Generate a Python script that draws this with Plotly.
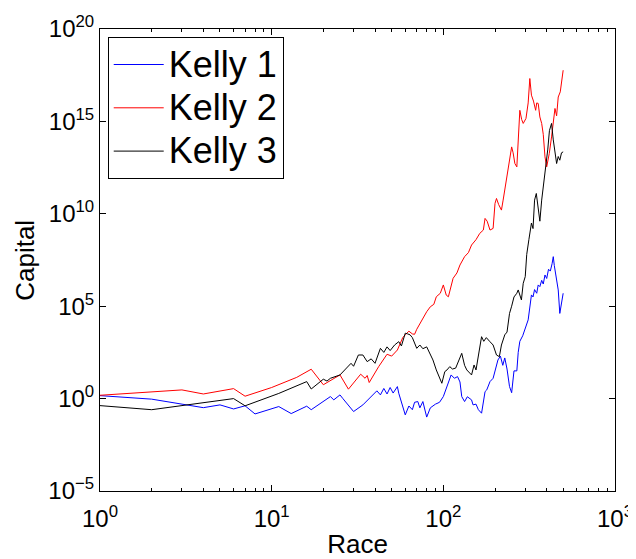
import plotly.graph_objects as go
import numpy as np

# ---- data (race number, log10 of capital) ----
kelly1_race = [1, 2, 4, 5, 6, 7, 8, 11, 13, 16, 17, 22, 23, 25, 26, 30, 34, 38, 41, 43, 45, 47, 49, 51,
               54, 55, 60, 63, 66, 68, 71, 73, 76, 80, 84, 90, 95, 100, 105, 111, 116, 121, 125, 128,
               133, 138, 146, 149, 155, 160, 167, 175, 179, 187, 195, 200, 208, 215, 222, 228, 235,
               243, 250, 258, 268, 273, 279, 290, 298, 306, 312, 326, 333, 340, 350, 357, 365, 374,
               382, 391, 400, 410, 420, 430, 437, 443, 450, 457, 467, 477, 485, 492, 499]
kelly1_log = [0.16, -0.03, -0.49, -0.34, -0.56, -0.39, -0.83, -0.43, -0.81, -0.41, -0.6, 0.11, -0.07,
              0.2, 0.0, -0.7, -0.34, 0.1, 0.42, 0.2, 0.55, 0.25, 0.6, 0.3, 0.65, 0.29, -0.88, -0.4,
              -0.6, -0.2, -0.16, -0.5, -0.16, -1.0, -0.5, -0.3, -0.2, 0.11, 0.65, 1.28, 1.1, 1.19, 0.9,
              0.11, -0.16, 0.1, -0.07, -0.34, -0.3, -0.6, -0.79, 0.38, 0.47, 0.92, 1.1, 1.5, 2.09, 2.3,
              1.8, 2.2, 1.6, 0.65, 0.32, 1.5, 1.5, 2.5, 3.1, 3.4, 3.71, 4.0, 4.26, 5.61, 5.5, 5.9, 5.7,
              6.15, 6.06, 6.4, 6.2, 6.69, 6.5, 7.0, 6.9, 7.3, 7.68, 7.2, 6.8, 6.2, 5.88, 4.61, 5.0,
              5.2, 5.7]

kelly2_race = [1, 3, 4, 6, 7, 10, 14, 17, 20, 25, 28, 33, 35, 36, 37, 42, 47, 50, 54, 58, 60, 63, 66,
               68, 70, 76, 80, 84, 88, 91, 96, 100, 104, 107, 114, 120, 125, 133, 140, 146, 155, 163,
               171, 175, 180, 187, 195, 200, 204, 210, 218, 223, 239, 250, 255, 261, 268, 279, 286,
               292, 303, 312, 319, 326, 335, 345, 350, 357, 365, 374, 382, 391, 400, 407, 414, 427,
               437, 447, 457, 467, 480, 490, 499]
kelly2_log = [0.18, 0.47, 0.25, 0.54, 0.13, 0.6, 1.15, 1.59, 0.75, 1.28, 0.51, 1.32, 1.1, 1.25, 0.87,
              1.73, 2.4, 2.3, 2.63, 3.3, 3.45, 3.65, 3.5, 3.48, 3.75, 4.34, 4.7, 4.97, 5.1, 5.51, 5.7,
              6.15, 5.6, 5.51, 6.51, 6.8, 7.23, 7.68, 7.9, 8.31, 8.6, 8.94, 9.12, 9.75, 9.6, 9.12,
              9.21, 10.56, 10.83, 10.5, 10.2, 10.74, 12.36, 13.62, 13.3, 12.72, 12.54, 15.6, 15.1,
              14.89, 15.16, 16.0, 17.32, 16.42, 16.1, 15.6, 16.0, 15.97, 15.24, 14.89, 14.3, 13.08,
              12.54, 12.9, 13.26, 14.16, 14.8, 15.7, 15.3, 16.32, 16.6, 17.2, 17.77]

kelly3_race = [1, 2, 6, 7, 11, 16, 17, 20, 21, 22, 25, 29, 30, 32, 34, 36, 38, 40, 43, 45, 47, 49, 52,
               55, 57, 60, 62, 64, 66, 70, 73, 76, 80, 85, 87, 91, 98, 102, 105, 109, 113, 118, 122,
               128, 133, 137, 146, 151, 155, 167, 172, 178, 186, 195, 204, 212, 218, 228, 235, 243,
               250, 258, 268, 273, 285, 292, 300, 306, 315, 326, 333, 340, 348, 356, 365, 374, 391,
               406, 415, 427, 437, 447, 457, 467, 477, 488, 499]
kelly3_log = [-0.38, -0.6, 0.0, -0.39, 0.28, 0.92, 0.52, 1.05, 0.95, 1.1, 1.28, 1.91, 1.75, 2.36, 2.36,
              2.0, 2.15, 1.91, 2.72, 2.5, 2.8, 2.6, 2.9, 3.08, 2.85, 3.54, 3.5, 3.45, 3.3, 2.72, 2.9,
              2.7, 2.8, 2.27, 2.09, 1.55, 0.83, 1.46, 1.55, 1.73, 1.6, 1.65, 2.0, 2.45, 1.8, 1.55,
              1.28, 1.82, 1.55, 3.35, 3.1, 3.3, 3.1, 2.9, 2.36, 2.27, 2.9, 3.45, 3.6, 4.61, 5.0, 5.5,
              5.7, 5.88, 5.34, 6.24, 6.6, 7.8, 8.6, 9.5, 9.2, 10.74, 11.1, 10.3, 9.6, 10.74, 12.1,
              13.5, 14.5, 14.89, 14.0, 13.3, 12.72, 13.1, 12.9, 13.3, 13.35]

series_names = ["Kelly 1", "Kelly 2", "Kelly 3"]
series_colors = ["#0000ff", "#ff0000", "#000000"]

y_tick_exps = [-5, 0, 5, 10, 15, 20]
x_tick_exps = [0, 1, 2, 3]

FONT = "Liberation Sans, Arial, Helvetica, sans-serif"

fig = go.Figure()
for name, color, xs, ls in zip(series_names, series_colors,
                               [kelly1_race, kelly2_race, kelly3_race],
                               [kelly1_log, kelly2_log, kelly3_log]):
    fig.add_trace(go.Scatter(x=xs, y=10.0 ** np.array(ls), mode="lines",
                             name=f'<span style="font-size:36px">{name}</span>',
                             line=dict(color=color, width=1)))

def sup_label(e):
    s = str(e).replace("-", "\u2212")
    return f"10<sup>{s}</sup>"

minor_x = [m * 10 ** d for d in range(0, 3) for m in range(2, 10)]

# the page body adds an 8px offset, so the figure is sized/margined to compensate
fig.update_layout(
    width=628, height=551,
    margin=dict(l=92, r=21, t=21, b=68, autoexpand=False),
    paper_bgcolor="white", plot_bgcolor="white",
    font=dict(family=FONT, color="black", size=24),
    showlegend=True,
    legend=dict(x=0.015, y=0.983, xanchor="left", yanchor="top",
                bgcolor="white", bordercolor="black", borderwidth=1,
                font=dict(size=31, family=FONT), tracegroupgap=0, itemwidth=50),
    xaxis=dict(type="log", range=[0, 3], showgrid=False, zeroline=False, automargin=False,
               showline=True, linecolor="black", linewidth=1, mirror="allticks",
               ticks="inside", ticklen=6, tickcolor="black", ticklabelstandoff=6,
               tickvals=[10 ** e for e in x_tick_exps],
               ticktext=[sup_label(e) for e in x_tick_exps],
               tickfont=dict(size=24),
               minor=dict(tickvals=minor_x, ticks="inside", ticklen=3, tickcolor="black"),
               title=dict(text="Race", font=dict(size=26), standoff=4)),
    yaxis=dict(type="log", range=[-5, 20], showgrid=False, zeroline=False, automargin=False,
               showline=True, linecolor="black", linewidth=1, mirror="allticks",
               ticks="inside", ticklen=6, tickcolor="black",
               tickvals=[10.0 ** e for e in y_tick_exps],
               ticktext=[sup_label(e) for e in y_tick_exps],
               tickfont=dict(size=24)),
    annotations=[dict(text="Capital", textangle=-90, xref="paper", yref="paper",
                      x=-0.146, y=0.5, xanchor="center", yanchor="middle",
                      showarrow=False, font=dict(size=26, family=FONT))],
)

fig.write_html("out.html")
